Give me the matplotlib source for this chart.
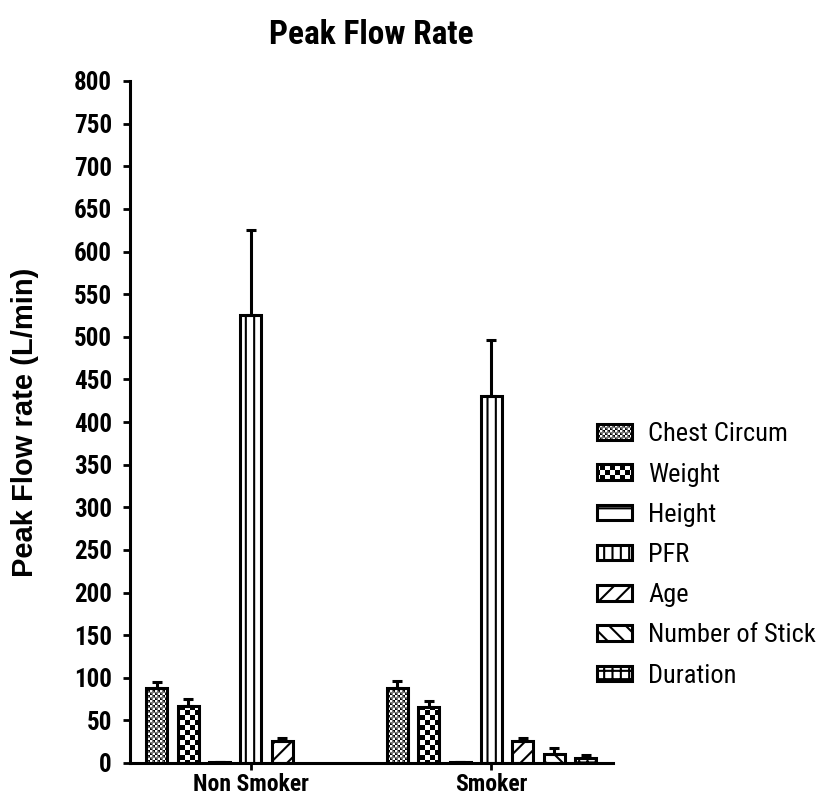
import numpy as np
import matplotlib
matplotlib.use("Agg")
import matplotlib.pyplot as plt
import matplotlib.hatch as mhatch
from matplotlib import font_manager
from matplotlib.path import Path

groups = ["Non Smoker", "Smoker"]
series = ["Chest Circum", "Weight", "Height", "PFR", "Age", "Number of Stick", "Duration"]
nonsmoker_mean = [88, 67, 1.5, 526, 26, np.nan, np.nan]
nonsmoker_err = [7, 8, 0, 99, 3, np.nan, np.nan]
smoker_mean = [88, 66, 1.5, 430, 26, 10, 6]
smoker_err = [8, 7, 0, 66, 3, 8, 3]

hatches = ["o", "O", "-", "||", "//", "\\\\", "++"]

plt.rcParams["hatch.linewidth"] = 1.5
HATCH_PAD = plt.rcParams["hatch.linewidth"] / 72 / 2


class CheckerHatch(mhatch.HatchPatternBase):
    # filled squares, 'o' = fine checkerboard, 'O' = coarse one
    def __init__(self, hatch, density):
        self.n = hatch.count("o") * 20 + hatch.count("O") * 10
        self.num_vertices = 2 * self.n * self.n * 5

    def set_vertices_and_codes(self, vertices, codes):
        n = self.n
        s = 1.0 / (2 * n)
        p = min(HATCH_PAD, s * 0.45)
        k = 0
        for i in range(n):
            for j in range(n):
                for (x0, y0) in [(2 * i * s, 2 * j * s), ((2 * i + 1) * s, (2 * j + 1) * s)]:
                    a, b = x0 + p, y0 + p
                    c, d = x0 + s - p, y0 + s - p
                    vertices[k:k + 5] = [(a, b), (c, b), (c, d), (a, d), (a, b)]
                    codes[k:k + 5] = [Path.MOVETO, Path.LINETO, Path.LINETO, Path.LINETO, Path.CLOSEPOLY]
                    k += 5


mhatch._hatch_types = [t for t in mhatch._hatch_types
                       if t not in (mhatch.SmallCircles, mhatch.LargeCircles)] + [CheckerHatch]


# the reference uses a condensed Arial-like face; take one if there is any
def weight_num(w):
    return w if isinstance(w, int) else font_manager.weight_dict.get(w, 400)


fams = {}
for f in font_manager.fontManager.ttflist:
    if "narrow" in f.name.lower() or "condensed" in f.name.lower():
        fams.setdefault(f.name, set()).add(weight_num(f.weight))
prefer = ["Liberation Sans Narrow", "Arial Narrow", "Roboto Condensed", "Open Sans Condensed"]
order = [n for n in prefer if n in fams] + sorted(n for n in fams if n not in prefer)
bold_fams = [n for n in order if max(fams[n]) >= 600]

if bold_fams:
    narrow = [bold_fams[0], "Liberation Sans", "DejaVu Sans"]
    kb = 1.0
    kl = 0.905
else:
    narrow = ["Liberation Sans", "DejaVu Sans"]
    kb = 0.84
    kl = 0.84

fig = plt.figure(figsize=(8.22, 8.0), dpi=100)
ax = fig.add_axes([130 / 822, 37 / 800, 483 / 822, 682 / 800])

slot = 1.0
width = 0.67
centers = np.array([0.0, 7.66])
offsets = (np.arange(len(series)) - 3) * slot

for i, name in enumerate(series):
    xs = centers + offsets[i]
    ys = [nonsmoker_mean[i], smoker_mean[i]]
    es = [nonsmoker_err[i], smoker_err[i]]
    ax.bar(xs, ys, width=width, facecolor="white", edgecolor="black",
           linewidth=2.2, hatch=hatches[i], label=name, zorder=2)
    ax.errorbar(xs, ys, yerr=[np.zeros(2), es], fmt="none", ecolor="black",
                elinewidth=2.2, capsize=3.8, capthick=2.2, zorder=3)

ax.set_xlim(-3.85, 11.53)
ax.set_ylim(0, 800)
ax.set_yticks(np.arange(0, 801, 50))
ax.set_xticks(centers)
ax.set_xticklabels(groups)

for s in ["top", "right"]:
    ax.spines[s].set_visible(False)
for s in ["left", "bottom"]:
    ax.spines[s].set_linewidth(2.2)

ax.tick_params(axis="y", direction="out", length=5, width=2, pad=8)
ax.tick_params(axis="x", direction="out", length=5, width=2, pad=2)
for lab in ax.get_yticklabels():
    lab.set_fontfamily(narrow)
    lab.set_fontweight("bold")
    lab.set_fontsize(18 * kb)
for lab in ax.get_xticklabels():
    lab.set_fontfamily(narrow)
    lab.set_fontweight("bold")
    lab.set_fontsize(17 * kb)

ax.set_title("Peak Flow Rate", fontsize=24 * kb, fontweight="bold", family=narrow, pad=27)
ax.set_ylabel("Peak Flow rate (L/min)", fontsize=21, fontweight="bold",
              family=["Liberation Sans", "DejaVu Sans"])
ax.yaxis.set_label_coords(-0.188, 0.5)

leg_size = 21 * kl
leg_px = leg_size * 100 / 72
ax.legend(loc="center left", bbox_to_anchor=(597 / 822, 1 - 555 / 800),
          bbox_transform=fig.transFigure, frameon=False, borderpad=0, borderaxespad=0,
          handlelength=35 / leg_px, handleheight=14 / leg_px, handletextpad=16 / leg_px,
          labelspacing=40 / leg_px - 0.9, prop={"family": narrow, "size": leg_size})

fig.savefig("out.png", dpi=100)
